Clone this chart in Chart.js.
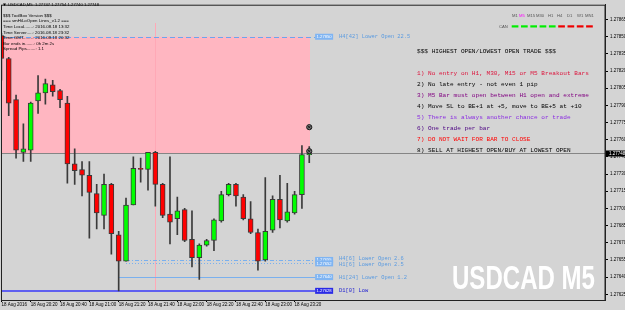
<!DOCTYPE html>
<html>
<head>
<meta charset="utf-8">
<script src="https://cdn.jsdelivr.net/npm/chart.js@4"></script>
<style>
	html, body { margin: 0; padding: 0; background: #d4d4d4; overflow: hidden; }
	canvas { display: block; }
</style>
</head>
<body>
<canvas id="c" width="625" height="310"></canvas>
<script>
// USDCAD M5, 18 Aug 2016, one bar every 5 minutes
const times = ["20:00","20:05","20:10","20:15","20:20","20:25","20:30","20:35","20:40","20:45","20:50","20:55",
	"21:00","21:05","21:10","21:15","21:20","21:25","21:30","21:35","21:40","21:45","21:50","21:55",
	"22:00","22:05","22:10","22:15","22:20","22:25","22:30","22:35","22:40","22:45","22:50","22:55",
	"23:00","23:05","23:10","23:15","23:20","23:25","23:30"];
const opens  = [1.27851,1.27831,1.27795,1.27749,1.27751,1.27794,1.27801,1.27808,1.27803,1.27792,1.27739,1.27734,
	1.27729,1.27713,1.27694,1.27721,1.27677,1.27654,1.27703,1.27735,1.27734,1.27749,1.27721,1.27695,
	1.27691,1.27699,1.27673,1.27657,1.27668,1.27672,1.27689,1.27712,1.27721,1.27710,1.27691,1.27679,
	1.27655,1.27681,1.27708,1.27689,1.27696,1.27712,1.27747];
const highs  = [1.27853,1.27832,1.27799,1.27774,1.27793,1.27816,1.27813,1.27812,1.27804,1.27798,1.27752,1.27741,
	1.27741,1.27721,1.27730,1.27722,1.27680,1.27709,1.27745,1.27744,1.27749,1.27750,1.27722,1.27745,
	1.27710,1.27700,1.27698,1.27669,1.27673,1.27691,1.27715,1.27722,1.27722,1.27712,1.27706,1.27682,
	1.27727,1.27711,1.27729,1.27722,1.27715,1.27755,1.27754];
const lows   = [1.27812,1.27781,1.27744,1.27741,1.27741,1.27783,1.27791,1.27798,1.27788,1.27722,1.27721,1.27711,
	1.27674,1.27682,1.27682,1.27660,1.27628,1.27654,1.27703,1.27723,1.27716,1.27702,1.27692,1.27669,
	1.27677,1.27671,1.27649,1.27638,1.27667,1.27663,1.27688,1.27711,1.27702,1.27690,1.27678,1.27646,
	1.27654,1.27679,1.27683,1.27688,1.27695,1.27700,1.27740];
const closes = [1.27831,1.27792,1.27751,1.27752,1.27792,1.27801,1.27809,1.27802,1.27795,1.27739,1.27733,1.27729,
	1.27714,1.27696,1.27721,1.27678,1.27654,1.27703,1.27735,1.27734,1.27749,1.27721,1.27694,1.27688,
	1.27698,1.27672,1.27657,1.27668,1.27672,1.27690,1.27712,1.27721,1.27711,1.27691,1.27679,1.27654,
	1.27680,1.27708,1.27690,1.27697,1.27712,1.27747,1.27748];

const xTickIndex = [0,4,8,12,16,20,24,28,32,36,40];
const yTicks = [1.27625,1.27640,1.27655,1.27670,1.27685,1.27700,1.27715,1.27730,1.27745,
	1.27760,1.27775,1.27790,1.27805,1.27820,1.27835,1.27850,1.27865];

// indicator levels
const levelPrices = [1.27850, 1.27655, 1.27652, 1.27640, 1.27628];
const levelNames  = ["H4[42] Lower Open 22.5", "H4[6] Lower Open 2.6", "H1[6] Lower Open 2.5", "H1[24] Lower Open 1.2", "D1[0] Low"];
const levelFrom   = [-1, 17, 17, 16, -1];
const bidPrice = 1.27748;
const zoneTop = 1.27850;
const markerPrices = [1.27771, 1.27750];

const infoLines = ["$$$ ToolBox Version $$$", "=== smHiLoOpen Lines_v1.2 ===",
	"Time Local.......: 2016.08.18 13:32", "Time Server.....: 2016.08.18 23:32",
	"Time GMT........: 2016.08.18 20:32", "Bar ends in.......: 0h 2m 2s", "Spread Pips.......: 1.1"];
const ruleLines = ["$$$ HIGHEST OPEN/LOWEST OPEN TRADE $$$", "",
	"1) No entry on H1, M30, M15 or M5 Breakout Bars",
	"2) No late entry - not even 1 pip",
	"3) M5 Bar must open between H1 open and extreme",
	"4) Move SL to BE+1 at +5, move to BE+5 at +10",
	"5) There is always another chance or trade",
	"6) One trade per bar",
	"7) DO NOT WAIT FOR BAR TO CLOSE",
	"8) SELL AT HIGHEST OPEN/BUY AT LOWEST OPEN"];
const ruleColors = ["#000", "#000", "#dc143c", "#000", "#800080", "#000", "#8a2be2", "#4b0082", "#ff0000", "#000"];
const frames = ["M1","M5","M15","M30","H1","H4","D1","W1","MN1"];
const frameUp = [true, true, true, true, true, false, false, false, false];

const levelColors = ["#6aa6ee", "#7ab0ee", "#7ab0ee", "#7ab0ee", "#6060f0"];
const levelDash = [[5, 3], [4, 2, 1, 2], [1, 2], [], []];

const overlay = {
	id: "overlay",
	beforeDraw(chart) {
		const ctx = chart.ctx;
		ctx.save();
		ctx.fillStyle = "#d4d4d4";
		ctx.fillRect(0, 0, chart.width, chart.height);
		ctx.restore();
	},
	beforeDatasetsDraw(chart) {
		const ctx = chart.ctx, x = chart.scales.x, y = chart.scales.y, a = chart.chartArea;
		ctx.save();
		ctx.beginPath();
		ctx.rect(a.left, a.top, a.right - a.left, a.bottom - a.top);
		ctx.clip();

		// pink zone
		ctx.fillStyle = "#ffb6c1";
		const zx = x.getPixelForValue(42.1);
		ctx.fillRect(a.left, y.getPixelForValue(zoneTop), zx - a.left, y.getPixelForValue(bidPrice) - y.getPixelForValue(zoneTop));

		// pink vertical
		ctx.strokeStyle = "#ffa8b6";
		ctx.lineWidth = 1;
		ctx.beginPath();
		ctx.moveTo(Math.round(x.getPixelForValue(21)) + 0.5, y.getPixelForValue(1.27862));
		ctx.lineTo(Math.round(x.getPixelForValue(21)) + 0.5, y.getPixelForValue(1.27628));
		ctx.stroke();

		// bid line
		ctx.strokeStyle = "#858585";
		ctx.beginPath();
		const by = Math.round(y.getPixelForValue(bidPrice)) + 0.5;
		ctx.moveTo(a.left, by);
		ctx.lineTo(a.right, by);
		ctx.stroke();

		// levels
		levelPrices.forEach((p, i) => {
			ctx.strokeStyle = levelColors[i];
			ctx.lineWidth = i === 4 ? 2 : 1;
			ctx.setLineDash(levelDash[i]);
			const ly = i === 4 ? Math.round(y.getPixelForValue(p)) : Math.round(y.getPixelForValue(p)) + 0.5;
			ctx.beginPath();
			ctx.moveTo(levelFrom[i] < 0 ? a.left : x.getPixelForValue(levelFrom[i]), ly);
			ctx.lineTo(x.getPixelForValue(42.8), ly);
			ctx.stroke();
		});
		ctx.restore();
	},
	afterDraw(chart) {
		const ctx = chart.ctx, x = chart.scales.x, y = chart.scales.y, a = chart.chartArea;
		ctx.save();

		// frame
		ctx.strokeStyle = "#222";
		ctx.lineWidth = 1;
		ctx.strokeRect(a.left - 0.5, a.top + 0.5, a.right - a.left + 0.5, a.bottom - a.top);

		// level tags and names
		ctx.textBaseline = "middle";
		levelPrices.forEach((p, i) => {
			const ly = y.getPixelForValue(p);
			const tx = x.getPixelForValue(42.8);
			ctx.fillStyle = i === 4 ? "#2a2ae6" : "#7fb4f2";
			ctx.fillRect(tx, ly - 3, 18, 6);
			ctx.fillStyle = "#fff";
			ctx.font = "4.2px 'Liberation Sans'";
			ctx.textAlign = "center";
			ctx.fillText(p.toFixed(5), tx + 9, ly);
			ctx.textAlign = "left";
			ctx.font = "5.4px 'Liberation Mono'";
			ctx.fillStyle = i === 4 ? "#2020d0" : "#5b9be0";
			ctx.fillText(levelNames[i], tx + 24, ly + (i === 1 ? -1 : i === 2 ? 1 : 0));
		});

		// bid box on axis
		const by = y.getPixelForValue(bidPrice);
		ctx.fillStyle = "#000";
		ctx.fillRect(a.right + 1, by - 3, 20, 6);
		ctx.fillStyle = "#fff";
		ctx.font = "4.5px 'Liberation Sans'";
		ctx.textAlign = "left";
		ctx.fillText(bidPrice.toFixed(5), a.right + 4, by);

		// title
		ctx.fillStyle = "#000";
		ctx.beginPath();
		ctx.moveTo(3, 3.5); ctx.lineTo(6, 3.5); ctx.lineTo(4.5, 6);
		ctx.fill();
		ctx.font = "4.2px 'Liberation Sans'";
		ctx.fillText("USDCAD,M5  1.27747 1.27754 1.27740 1.27748", 8, 5);

		// info block
		ctx.font = "4.4px 'Liberation Sans'";
		infoLines.forEach((t, i) => ctx.fillText(t, 3, 15.7 + i * 5.55));

		// rules
		ctx.font = "6.1px 'Liberation Mono'";
		ruleLines.forEach((t, i) => {
			ctx.fillStyle = ruleColors[i];
			ctx.fillText(t, 417, i === 0 ? 51 : 62 + (i - 1) * 11);
		});

		// timeframe panel
		const fx = [512, 519, 527, 536, 548, 557, 567, 577, 585];
		ctx.font = "4.2px 'Liberation Sans'";
		frames.forEach((f, i) => {
			ctx.fillStyle = i === 1 ? "#ff00ff" : "#555";
			ctx.fillText(f, fx[i], 16);
			ctx.fillStyle = frameUp[i] ? "#00ee00" : "#ee0000";
			ctx.fillRect(511.7 + i * 9.3, 25.3, 6.7, 2.2);
		});
		ctx.fillStyle = "#555";
		ctx.fillText("CAN", 499, 26.5);

		// markers
		markerPrices.forEach(p => {
			const mx = x.getPixelForValue(42), my = y.getPixelForValue(p);
			ctx.fillStyle = "#7a7a7a";
			ctx.strokeStyle = "#1a1a1a";
			ctx.beginPath();
			ctx.arc(mx, my, 2.6, 0, Math.PI * 2);
			ctx.fill();
			ctx.stroke();
			ctx.beginPath();
			ctx.moveTo(mx - 1.3, my - 1.3); ctx.lineTo(mx + 1.3, my + 1.3);
			ctx.moveTo(mx + 1.3, my - 1.3); ctx.lineTo(mx - 1.3, my + 1.3);
			ctx.stroke();
		});

		// watermark
		ctx.font = "bold 34px 'Liberation Sans Narrow', 'Liberation Sans'";
		ctx.textBaseline = "alphabetic";
		const w = ctx.measureText("USDCAD M5").width;
		ctx.translate(452, 288.5);
		ctx.scale(143 / w, 1);
		ctx.fillStyle = "#ffffff";
		ctx.fillText("USDCAD M5", 0, 0);
		ctx.restore();
	}
};

new Chart(document.getElementById("c"), {
	data: {
		datasets: [
			{
				type: "bar",
				label: "body",
				data: opens.map((o, i) => ({ x: i, y: [o, closes[i] === o ? o + 0.000005 : closes[i]] })),
				backgroundColor: opens.map((o, i) => closes[i] >= o ? "#00ff00" : "#ff0000"),
				borderColor: "#3a3a3a",
				borderWidth: 1,
				borderSkipped: false,
				barThickness: 5,
				grouped: false,
				order: 1
			},
			{
				type: "bar",
				label: "wick",
				data: lows.map((l, i) => ({ x: i, y: [l, highs[i]] })),
				backgroundColor: "#3a3a3a",
				barThickness: 1,
				grouped: false,
				order: 2
			}
		]
	},
	options: {
		responsive: false,
		animation: false,
		layout: { padding: { left: 2, top: 1, right: 0, bottom: 0 } },
		plugins: { legend: { display: false }, tooltip: { enabled: false } },
		scales: {
			x: {
				type: "linear",
				offset: false,
				min: (2 - 1.4) / 7.33,
				max: (605 - 1.4) / 7.33,
				bounds: "data",
				afterBuildTicks: axis => { axis.ticks = xTickIndex.map(v => ({ value: v })); },
				afterFit: axis => { axis.height = 10; },
				grid: { offset: false, drawOnChartArea: false, tickLength: 2, color: "#000" },
				border: { display: true, color: "#222" },
				ticks: {
					autoSkip: false,
					maxRotation: 0,
					align: "start",
					padding: 0,
					color: "#000",
					font: { size: 4.5, family: "'Liberation Sans'" },
					callback: v => v === 0 ? "18 Aug 2016" : "18 Aug " + times[v]
				}
			},
			y: {
				type: "linear",
				position: "right",
				min: 1.27620,
				max: 1.27878,
				bounds: "data",
				afterBuildTicks: axis => { axis.ticks = yTicks.map(v => ({ value: v })); },
				afterFit: axis => { axis.width = 20; },
				grid: { drawOnChartArea: false, tickLength: 3, color: "#000" },
				border: { display: true, color: "#222" },
				ticks: {
					padding: 2,
					color: "#000",
					font: { size: 4.5, family: "'Liberation Sans'" },
					callback: v => v.toFixed(5)
				}
			}
		}
	},
	plugins: [overlay]
});
</script>
</body>
</html>
